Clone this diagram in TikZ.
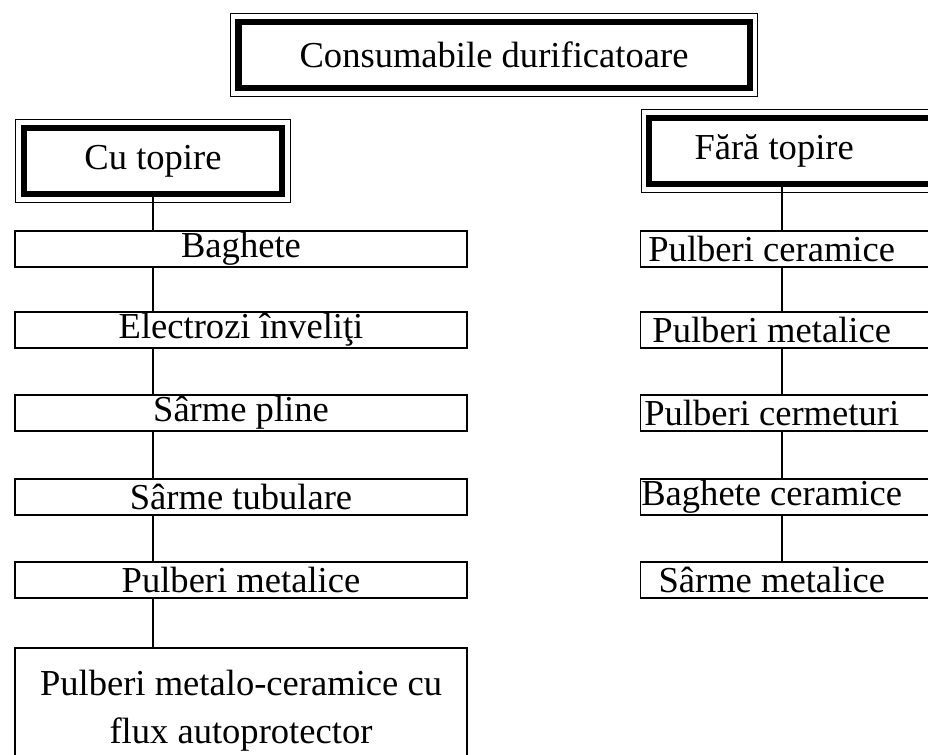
\documentclass[tikz,border=0pt]{standalone}
\usepackage{fontspec}
\setmainfont{Liberation Serif}
\newcommand{\cutbox}[2]{\makebox[#1]{#2}\hspace*{1cm}}

\begin{document}
\begin{tikzpicture}[x=0.025cm,y=-0.025cm,
  every node/.style={font=\fontsize{26}{34}\selectfont},
  box/.style={draw, line width=1pt, minimum height=0.9cm, inner ysep=0pt},
  hdr/.style={draw, line width=4.5pt, minimum height=1.65cm},
  link/.style={line width=1.6pt}]
  \useasboundingbox (0,0) rectangle (928,755);
  \clip (0,0) rectangle (928,755);
  \node[hdr, minimum width=12.78cm] (top) at (494,55) {Consumabile durificatoare};
  \node[hdr, minimum width=6.45cm] (h1) at (153,161) {Cu topire};
  \node[hdr, anchor=west, inner xsep=0pt] (h2) at (646,151) {\cutbox{6.25cm}{Fără topire}};
  \foreach \n in {top,h1,h2}
    \draw[line width=0.7pt] ([shift={(-5,-5)}]\n.north west) rectangle ([shift={(5,5)}]\n.south east);
  \node[box, minimum width=11.3cm] (b1) at (241,249) {Baghete};
  \node[box, minimum width=11.3cm] (b2) at (241,330) {Electrozi înveliţi};
  \node[box, minimum width=11.3cm] (b3) at (241,413) {Sârme pline};
  \node[box, minimum width=11.3cm] (b4) at (241,497) {Sârme tubulare};
  \node[box, minimum width=11.3cm] (b5) at (241,580) {Pulberi metalice};
  \node[box, minimum width=11.3cm, minimum height=3.15cm, align=center] (b6) at (241,711)
    {Pulberi metalo-ceramice cu\\flux autoprotector};
  \node[box, anchor=west, inner xsep=0pt] (r1) at (640,249) {\cutbox{6.55cm}{Pulberi ceramice}};
  \node[box, anchor=west, inner xsep=0pt] (r2) at (640,330) {\cutbox{6.55cm}{Pulberi metalice}};
  \node[box, anchor=west, inner xsep=0pt] (r3) at (640,413) {\cutbox{6.55cm}{Pulberi cermeturi}};
  \node[box, anchor=west, inner xsep=0pt] (r4) at (640,497) {\cutbox{6.55cm}{Baghete ceramice}};
  \node[box, anchor=west, inner xsep=0pt] (r5) at (640,580) {\cutbox{6.55cm}{Sârme metalice}};
  \foreach \a/\b in {h1/b1,b1/b2,b2/b3,b3/b4,b4/b5,b5/b6}
    \draw[link] (\a.south -| h1) -- (\b.north -| h1);
  \coordinate (rx) at (782,0);
  \foreach \a/\b in {h2/r1,r1/r2,r2/r3,r3/r4,r4/r5}
    \draw[link] (\a.south -| rx) -- (\b.north -| rx);
\end{tikzpicture}
\end{document}
